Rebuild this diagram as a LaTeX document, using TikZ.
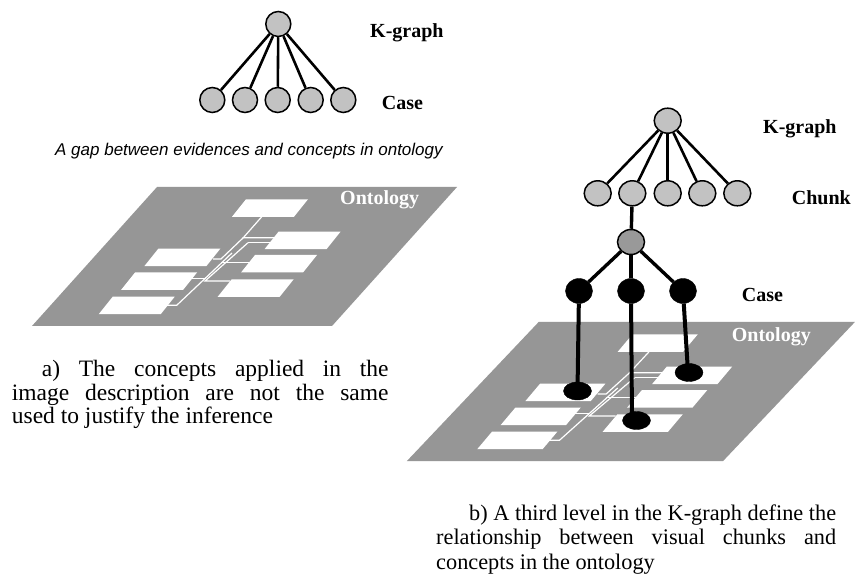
\documentclass[tikz,border=0pt]{standalone}
\usepackage{fontspec}
\setmainfont{Liberation Serif}
\newfontfamily\arialfont{Liberation Sans}
\usetikzlibrary{shapes.geometric}

\definecolor{kgray}{gray}{0.76}
\definecolor{midgray}{gray}{0.60}
\definecolor{planegray}{gray}{0.59}

% One ontology plane: gray sheet, white concept boxes and the white links between them
\newcommand{\conceptbox}[2]{\fill[white] (#1,#2) -- ++(62,0) -- ++(-14,17.5) -- ++(-62,0) -- cycle;}
\newcommand{\ontologysheet}{%
  \fill[planegray] (32,326) -- (332,326) -- (457,187) -- (157,187) -- cycle;
  \conceptbox{246}{199.3}
  \conceptbox{278.5}{231.7}
  \conceptbox{255}{255}
  \conceptbox{231.7}{279.3}
  \conceptbox{158.3}{248.7}
  \conceptbox{135}{272.5}
  \conceptbox{112.7}{296.7}
  \draw[wire] (261.7,216.8) -- (243.3,237.7) -- (275,237.7);
  \draw[wire] (243.3,237.7) -- (221,259) -- (213,259);
  \draw[wire] (248,242.7) -- (272,242.7);
  \draw[wire] (248,242.7) -- (205,281) -- (230,281);
  \draw[wire] (221,262.3) -- (249,262.3);
  \draw[wire] (232,253) -- (176.7,305.3) -- (166.7,305.3);
  \draw[wire] (191,278.3) -- (205.5,278.3);
}

\begin{document}
\begin{tikzpicture}[x=1pt,y=-1pt,
  wire/.style={white, line width=1.2pt},
  knode/.style={circle, draw=black, line width=1.5pt, fill=kgray, minimum size=25pt, inner sep=0pt},
  kwide/.style={ellipse, draw=black, line width=1.5pt, fill=kgray, minimum width=27pt, minimum height=25pt, inner sep=0pt},
  midnode/.style={ellipse, draw=black, line width=1.5pt, fill=midgray, minimum width=27pt, minimum height=25pt, inner sep=0pt},
  casenode/.style={ellipse, draw=black, fill=black, minimum width=27pt, minimum height=25pt, inner sep=0pt},
  footnode/.style={ellipse, draw=black, fill=black, minimum width=28pt, minimum height=18pt, inner sep=0pt},
  edge/.style={black, line width=2.6pt},
  thickedge/.style={black, line width=3.4pt},
  dropedge/.style={black, line width=4pt},
  lab/.style={font=\bfseries\fontsize{20}{22}\selectfont, inner sep=0pt, anchor=base west},
  ontlab/.style={lab, text=white},
  caption/.style={inner sep=0pt, anchor=base west, align=justify}
]
\useasboundingbox (0,0) rectangle (855,580);
\fill[white] (0,0) rectangle (855,580);

% ---------- left: K-graph over cases ----------
\node[knode] (lroot) at (278.3,24) {};
\foreach \i/\x in {1/212.3,2/245,3/277.7,4/310.7,5/343.3}
  \node[knode] (lc\i) at (\x,100) {};
\foreach \i in {1,...,5}
  \draw[edge] (lroot) -- (lc\i);
\node[lab] (lklab) at (370,38) {K-graph};
\node[lab] (lcaselab) at (381.7,110) {Case};

\node[inner sep=0pt, anchor=base west, font=\arialfont\itshape\fontsize{17}{20}\selectfont] (gap) at (55,156)
  {A gap between evidences and concepts in ontology};

\begin{scope}
  \ontologysheet
\end{scope}
\node[ontlab] (lont) at (340,205) {Ontology};

\node[caption, text width=376.7pt, font=\fontsize{23.5}{23.7}\selectfont] (capa) at (11.7,376.5)
  {\hspace*{30pt}a) The concepts applied in the\linebreak image description are not the same\linebreak used to justify the inference};

% ---------- right: K-graph, chunks, cases anchored in the ontology ----------
\begin{scope}[shift={(373.2,135)}, xscale=1.054]
  \ontologysheet
\end{scope}
\node[ontlab] (ront) at (731.7,341.7) {Ontology};

\node[kwide] (rroot) at (667.7,120.7) {};
\foreach \i/\x in {1/597.7,2/632.3,3/667.7,4/702.3,5/737.3}
  \node[kwide] (rc\i) at (\x,193.3) {};
\foreach \i in {1,...,5}
  \draw[edge] (rroot) -- (rc\i);

\node[midnode] (mid) at (631,242) {};
\draw[thickedge] (rc2) -- (mid);

\node[casenode] (cs1) at (579,291) {};
\node[casenode] (cs2) at (631,291) {};
\node[casenode] (cs3) at (683,291) {};
\foreach \i in {1,2,3}
  \draw[thickedge] (mid) -- (cs\i);

\coordinate (ft1) at (577.5,391);
\coordinate (ft2) at (632,420.5);
\coordinate (ft3) at (688,372.5);
\draw[dropedge] (cs1) -- (ft1);
\draw[dropedge] (cs2) -- (ft2);
\draw[dropedge] (cs3) -- (ft3);
\node[footnode] (fe1) at (577.5,391) {};
\node[footnode] (fe2) at (636.5,420.5) {};
\node[footnode] (fe3) at (689,372.5) {};

\node[lab] (rklab) at (763,133.3) {K-graph};
\node[lab] (chunklab) at (791.7,205) {Chunk};
\node[lab] (rcaselab) at (741.7,301.7) {Case};

\node[caption, text width=400pt, font=\fontsize{22.3}{24.5}\selectfont] (capb) at (436,520)
  {\hspace*{33pt}b) A third level in the K-graph define the\linebreak relationship between visual chunks and\linebreak concepts in the ontology};
\end{tikzpicture}
\end{document}
